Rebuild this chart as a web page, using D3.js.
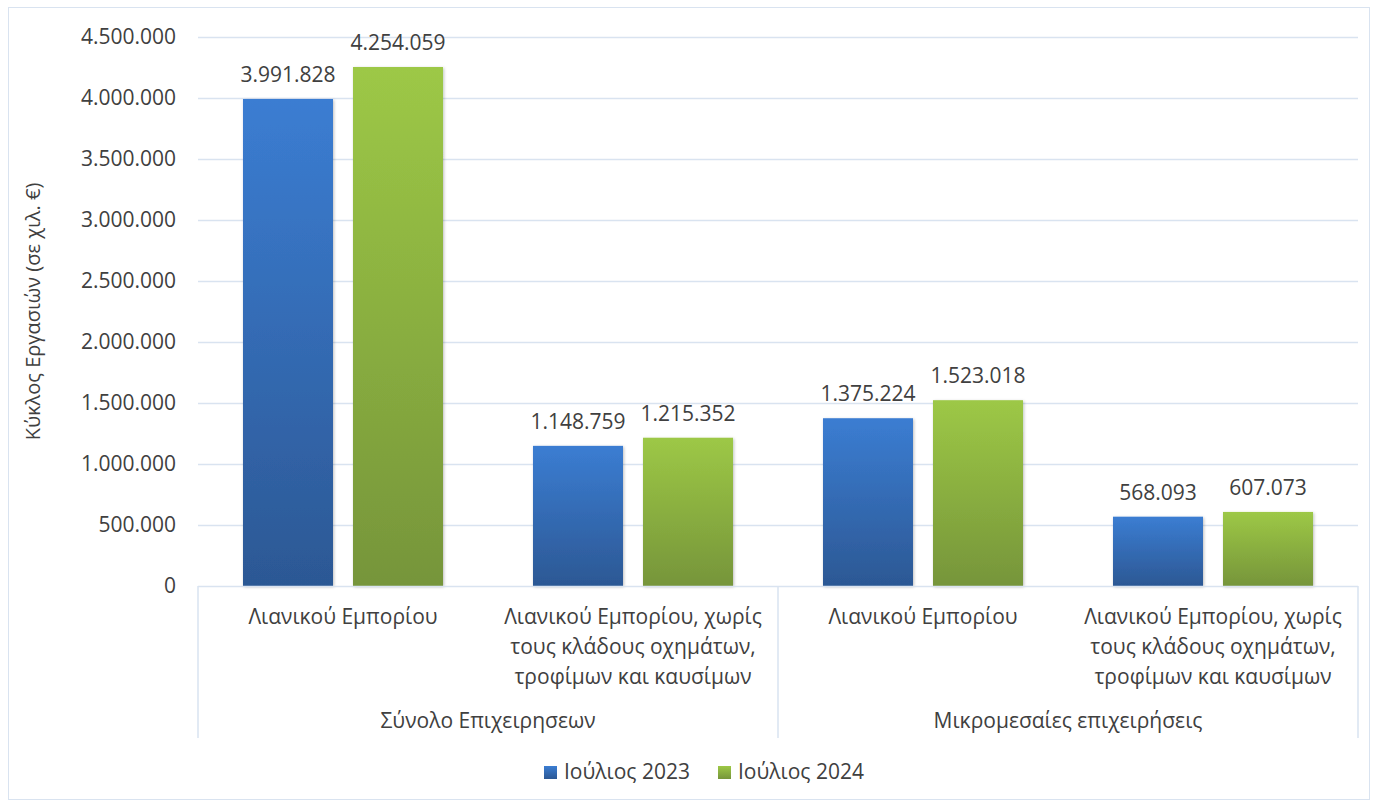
<!DOCTYPE html>
<html>
<head>
<meta charset="utf-8">
<script src="https://cdn.jsdelivr.net/npm/d3@7"></script>
<style>
  body { margin: 0; background: #fff; }
  text { font-family: "Open Sans", "Noto Sans", sans-serif; fill: #404040; }
</style>
</head>
<body>
<svg id="chart" width="1378" height="807"></svg>
<script>
// data
var groups = ["Σύνολο Επιχειρησεων", "Μικρομεσαίες επιχειρήσεις"];
var categories = [
  ["Λιανικού Εμπορίου"],
  ["Λιανικού Εμπορίου, χωρίς", "τους κλάδους οχημάτων,", "τροφίμων και καυσίμων"]
];
var series = ["Ιούλιος 2023", "Ιούλιος 2024"];
var values2023 = [3991828, 1148759, 1375224, 568093];
var values2024 = [4254059, 1215352, 1523018, 607073];
var yTicks = [0, 500000, 1000000, 1500000, 2000000, 2500000, 3000000, 3500000, 4000000, 4500000];

var svg = d3.select("#chart"),
    margin = {left: 198, right: 20, top: 37, bottom: 221},
    width = 1378 - margin.left - margin.right,
    height = 807 - margin.top - margin.bottom;

var gridColor = "#d9e3f0";
var fmt = function(v) { return d3.format(",")(v).replace(/,/g, "."); };

// frame
svg.append("rect")
    .attr("x", 8.5).attr("y", 7.5)
    .attr("width", 1361).attr("height", 792)
    .attr("fill", "none")
    .attr("stroke", gridColor);

var defs = svg.append("defs");
var grads = [["#3b7dd2", "#2c5894"], ["#9dc846", "#76953a"]];
grads.forEach(function(c, i) {
  var g = defs.append("linearGradient")
      .attr("id", "grad" + i)
      .attr("x1", 0).attr("y1", 0).attr("x2", 0).attr("y2", 1);
  g.append("stop").attr("offset", "0%").attr("stop-color", c[0]);
  g.append("stop").attr("offset", "100%").attr("stop-color", c[1]);
});
var shadow = defs.append("filter").attr("id", "shadow")
    .attr("x", "-10%").attr("y", "-10%").attr("width", "130%").attr("height", "130%");
shadow.append("feDropShadow")
    .attr("dx", 1).attr("dy", 1).attr("stdDeviation", 1.5)
    .attr("flood-color", "#000").attr("flood-opacity", 0.25);

var g = svg.append("g")
    .attr("transform", "translate(" + margin.left + "," + margin.top + ")");

// flat list of bars
var cats = [];
groups.forEach(function(gr, gi) {
  categories.forEach(function(c, ci) {
    cats.push({group: gr, gi: gi, lines: c, key: gi + "-" + ci});
  });
});
cats.forEach(function(c, i) {
  c.values = [values2023[i], values2024[i]];
});

var x0 = d3.scaleBand()
    .domain(cats.map(function(d) { return d.key; }))
    .range([0, width]);

var x1 = d3.scaleBand()
    .domain(series)
    .range([0, x0.bandwidth()])
    .paddingInner(0.1818)
    .paddingOuter(0.409);

var y = d3.scaleLinear()
    .domain([0, 4500000])
    .range([height, 0]);

// gridlines
g.append("g")
    .selectAll("line")
    .data(yTicks.slice(1))
    .enter().append("line")
      .attr("x1", 0).attr("x2", width)
      .attr("y1", function(d) { return y(d) + 0.5; })
      .attr("y2", function(d) { return y(d) + 0.5; })
      .attr("stroke", gridColor)
      .attr("stroke-width", 1.5);

// y axis labels
var yAxis = g.append("g")
    .call(d3.axisLeft(y).tickValues(yTicks).tickSize(0).tickPadding(22).tickFormat(fmt));
yAxis.select(".domain").remove();
yAxis.selectAll("text")
    .style("font-size", "21px")
    .attr("fill", "#404040");

// bars
var catG = g.selectAll(".cat")
    .data(cats)
    .enter().append("g")
      .attr("class", "cat")
      .attr("transform", function(d) { return "translate(" + x0(d.key) + ",0)"; });

catG.selectAll("rect")
    .data(function(d) { return d.values.map(function(v, i) { return {s: series[i], i: i, v: v}; }); })
    .enter().append("rect")
      .attr("x", function(d) { return x1(d.s); })
      .attr("y", function(d) { return y(d.v); })
      .attr("width", x1.bandwidth())
      .attr("height", function(d) { return height - y(d.v); })
      .attr("fill", function(d) { return "url(#grad" + d.i + ")"; })
      .attr("filter", "url(#shadow)");

catG.selectAll(".val")
    .data(function(d) { return d.values.map(function(v, i) { return {s: series[i], v: v}; }); })
    .enter().append("text")
      .attr("class", "val")
      .attr("x", function(d) { return x1(d.s) + x1.bandwidth() / 2; })
      .attr("y", function(d) { return y(d.v) - 17; })
      .attr("text-anchor", "middle")
      .style("font-size", "21px")
      .text(function(d) { return fmt(d.v); });

// x axis baseline & separators
g.append("line")
    .attr("x1", 0).attr("x2", width)
    .attr("y1", height + 0.5).attr("y2", height + 0.5)
    .attr("stroke", gridColor).attr("stroke-width", 1.5);

var sepX = [0, x0(cats[2].key), width];
g.selectAll(".sep")
    .data(sepX)
    .enter().append("line")
      .attr("class", "sep")
      .attr("x1", function(d) { return d; }).attr("x2", function(d) { return d; })
      .attr("y1", height).attr("y2", height + 152)
      .attr("stroke", gridColor).attr("stroke-width", 1.5);

// category labels
catG.append("text")
    .attr("text-anchor", "middle")
    .style("font-size", "21px")
    .selectAll("tspan")
    .data(function(d) { return d.lines; })
    .enter().append("tspan")
      .attr("x", x0.bandwidth() / 2)
      .attr("y", function(d, i) { return height + 38 + i * 30; })
      .text(function(d) { return d; });

// group labels
g.selectAll(".grp")
    .data(groups)
    .enter().append("text")
      .attr("class", "grp")
      .attr("x", function(d, i) { return (sepX[i] + sepX[i + 1]) / 2; })
      .attr("y", height + 142)
      .attr("text-anchor", "middle")
      .style("font-size", "21px")
      .text(function(d) { return d; });

// y axis title
svg.append("text")
    .attr("transform", "translate(40," + (margin.top + height / 2) + ") rotate(-90)")
    .attr("text-anchor", "middle")
    .style("font-size", "20px")
    .text("Κύκλος Εργασιών (σε χιλ. €)");

// legend
var legend = svg.append("g").attr("transform", "translate(544,766)");
var legX = [0, 174];
series.forEach(function(s, i) {
  var lg = legend.append("g").attr("transform", "translate(" + legX[i] + ",0)");
  lg.append("rect")
    .attr("width", 13).attr("height", 13)
    .attr("fill", "url(#grad" + i + ")");
  lg.append("text")
    .attr("x", 20).attr("y", 13)
    .style("font-size", "21px")
    .text(s);
});
</script>
</body>
</html>
